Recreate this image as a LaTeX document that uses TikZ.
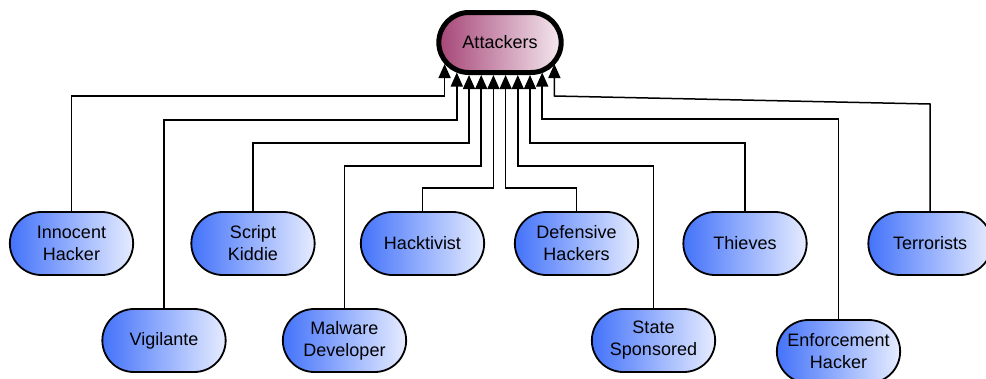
\documentclass[tikz,border=0pt]{standalone}
\usepackage{fontspec}
\setmainfont{Liberation Sans}
\usetikzlibrary{arrows.meta,shapes.misc,positioning}
\definecolor{rootLeft}{HTML}{A64677}
\definecolor{rootRight}{HTML}{F4E8EF}
\definecolor{typeLeft}{HTML}{4473FA}
\definecolor{typeRight}{HTML}{E6ECFF}
\newcommand{\myLabelFont}{\fontsize{18}{22}\selectfont}

\begin{document}
\begin{tikzpicture}[x=1pt,y=-1pt,>={Triangle[width=12pt,length=14pt]},
	Edge/.style={->,black,line width=1.5pt},
	RootNode/.style={rounded rectangle,draw=black,line width=5pt,left color=rootLeft,right color=rootRight,minimum width=129pt,minimum height=60pt,font=\myLabelFont},
	TypeNode/.style={rounded rectangle,draw=black,line width=1.8pt,left color=typeLeft,right color=typeRight,minimum width=130pt,minimum height=63pt,align=center,font=\myLabelFont},
]
	\useasboundingbox (0,0) rectangle (986,378);
	%\draw[help lines,step=20pt,gray!20] (0,0) grid (986,378);
	\node[RootNode] (A) at (500,42.5) {Attackers};
	\node[TypeNode] (B) at (71.5,243.5) {Innocent\\Hacker};
	\node[TypeNode] (C) at (164,340.5) {Vigilante};
	\node[TypeNode] (D) at (253,243.5) {Script\\Kiddie};
	\node[TypeNode] (E) at (344.5,340.5) {Malware\\Developer};
	\node[TypeNode] (F) at (422.5,243.5) {Hacktivist};
	\node[TypeNode] (G) at (576.5,243.5) {Defensive\\Hackers};
	\node[TypeNode] (H) at (653.5,340.5) {State\\Sponsored};
	\node[TypeNode] (I) at (745,243.5) {Thieves};
	\node[TypeNode] (J) at (838.5,351.5) {Enforcement\\Hacker};
	\node[TypeNode] (K) at (930,243.5) {Terrorists};

	\draw[Edge,shorten >=-11pt] (B.north) |- (444.6,96) -- (A.south -| 444.6,0);
	\draw[Edge,shorten >=-2.5pt] (C.north) |- (456.8,120) -- (A.south -| 456.8,0);
	\draw[Edge] (D.north) |- (469,143) -- (A.south -| 469,0);
	\draw[Edge] (E.north) |- (481.2,166) -- (A.south -| 481.2,0);
	\draw[Edge] (F.north) |- (493.4,188) -- (A.south -| 493.4,0);
	\draw[Edge] (G.north) |- (505.6,188) -- (A.south -| 505.6,0);
	\draw[Edge] (H.north) |- (517.8,166) -- (A.south -| 517.8,0);
	\draw[Edge] (I.north) |- (530,143) -- (A.south -| 530,0);
	\draw[Edge,shorten >=-2.5pt] (J.north) |- (542.2,119) -- (A.south -| 542.2,0);
	\draw[Edge,shorten >=-11pt] (K.north) -- (930,104) -- (554.4,96) -- (A.south -| 554.4,0);
\end{tikzpicture}
\end{document}
